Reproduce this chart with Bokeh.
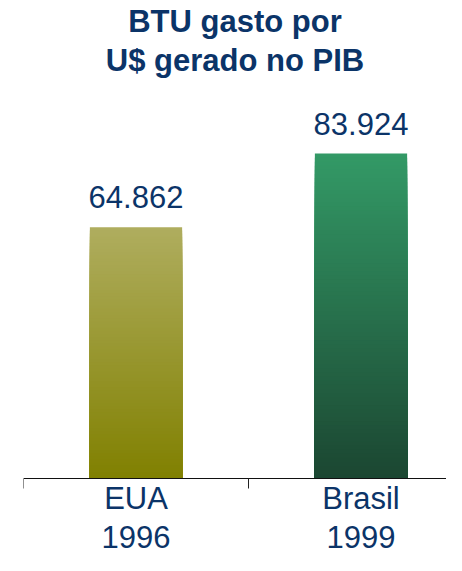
from bokeh.plotting import figure
from bokeh.models import Range1d, FixedTicker, ColumnDataSource, Title
from bokeh.core.properties import value
from bokeh.embed import file_html
from bokeh.resources import INLINE

# ---- data ----
regions = ["EUA", "Brasil"]
years = ["1996", "1999"]
btu_values = [64.862, 83.924]
top_colors = ["#AFAD5E", "#339966"]
bottom_colors = ["#808000", "#1B4631"]
title_lines = ["BTU gasto por", "U$ gerado no PIB"]

FONT = "Liberation Sans"
NAVY = "#0B3468"

p = figure(width=446, height=555, output_backend="svg", toolbar_location=None,
           x_range=Range1d(0, 1.88), y_range=Range1d(-20.0, 103.6),
           min_border_left=23, min_border_right=0, min_border_top=0, min_border_bottom=0)

p.title.visible = False
for j, line in reversed(list(enumerate(title_lines))):
    p.add_layout(Title(text=line, align="center", text_font=FONT, text_font_size="31px",
                       text_font_style="bold", text_color=NAVY,
                       standoff=3 if j == 0 else 0, offset=10), "above")

p.outline_line_color = None
p.xgrid.visible = False
p.ygrid.visible = False
p.yaxis.visible = False
p.background_fill_color = "white"
p.border_fill_color = "white"

def hex2rgb(h):
    h = h.lstrip("#")
    return tuple(int(h[i:i + 2], 16) for i in (0, 2, 4))

def mix(c1, c2, t):
    a, b = hex2rgb(c1), hex2rgb(c2)
    return "#%02x%02x%02x" % tuple(round(a[i] + (b[i] - a[i]) * t) for i in range(3))

# gradient bars: overlapping stacked slices, largest first
N = 80
xs, tops, cols = [], [], []
for i, v in enumerate(btu_values):
    for k in range(N):
        frac = (N - k) / N
        xs.append(i + 0.5)
        tops.append(v * frac)
        cols.append(mix(bottom_colors[i], top_colors[i], frac))
src = ColumnDataSource(dict(x=xs, top=tops, color=cols))
p.vbar(x="x", top="top", bottom=0, width=0.41, source=src,
       fill_color="color", line_color=None)

# value labels
lab = ColumnDataSource(dict(x=[i + 0.5 for i in range(len(btu_values))],
                            y=btu_values,
                            t=[f"{v:.3f}" for v in btu_values]))
p.text(x="x", y="y", text="t", source=lab, text_align="center",
       text_baseline="alphabetic", y_offset=-30,
       text_font=value(FONT), text_font_size="31px", text_color=NAVY)

# x axis at y=0: labels at centres, ticks at category boundaries
centers = [i + 0.5 for i in range(len(regions))]
bounds = [float(i) for i in range(len(regions) + 1)]
ax = p.xaxis[0]
ax.fixed_location = 0
ax.ticker = FixedTicker(ticks=centers, minor_ticks=bounds)
ax.major_label_overrides = {c: f"{r}\n{y}" for c, r, y in zip(centers, regions, years)}
ax.major_tick_line_color = None
ax.major_tick_in = 0
ax.major_tick_out = 0
ax.minor_tick_in = 0
ax.minor_tick_out = 10
ax.minor_tick_line_color = "#222222"
ax.axis_line_color = "#111111"
ax.axis_line_width = 1
ax.major_label_text_font = FONT
ax.major_label_text_font_size = "31px"
ax.major_label_text_color = NAVY
ax.major_label_standoff = -7
ax.major_label_text_line_height = 1.12

open("out.html", "w").write(file_html(p, INLINE))
